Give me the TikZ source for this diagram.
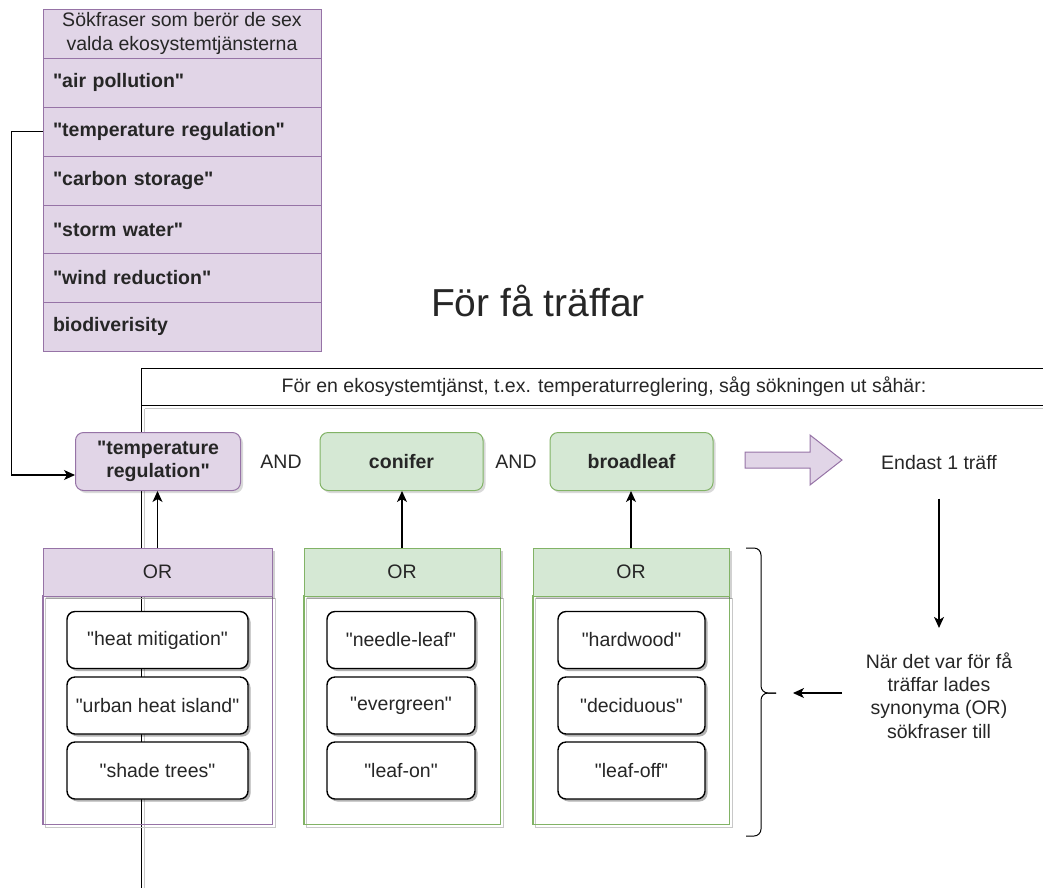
\documentclass[tikz,border=0pt]{standalone}
\usepackage{fontspec}
\setmainfont{Liberation Sans}
\newfontfamily\lsans{Liberation Sans}
\usetikzlibrary{arrows.meta,shadows}

\definecolor{pfill}{HTML}{E1D5E7}
\definecolor{pdraw}{HTML}{9673A6}
\definecolor{gfill}{HTML}{D5E8D4}
\definecolor{gdraw}{HTML}{82B366}
\definecolor{txt}{HTML}{262626}
\definecolor{shd}{HTML}{C8C8C8}

\begin{document}
\begin{tikzpicture}[x=1pt,y=-1pt,
  every node/.style={font=\lsans\fontsize{19.5}{23.4}\selectfont, text=txt},
  listrow/.style={draw=pdraw, fill=pfill, line width=1pt, minimum width=278pt,
    minimum height=49pt, text width=258pt, inner xsep=10pt, inner ysep=0pt,
    align=left, font=\lsans\bfseries\fontsize{19.5}{23.4}\selectfont},
  listhead/.style={draw=pdraw, fill=pfill, line width=1pt, minimum width=278pt,
    minimum height=49pt, inner sep=0pt, align=center},
  keybox/.style={rounded corners=8pt, line width=1pt, minimum height=58pt,
    inner sep=0pt, align=center, font=\lsans\bfseries\fontsize{19.5}{23.4}\selectfont,
    drop shadow={shadow xshift=2.5pt, shadow yshift=-2.5pt, fill=black, opacity=0.15}},
  pbox/.style={keybox, draw=pdraw, fill=pfill},
  gbox/.style={keybox, draw=gdraw, fill=gfill},
  orhead/.style={line width=1pt, minimum height=48pt, inner sep=0pt,
    drop shadow={shadow xshift=3pt, shadow yshift=-3pt, fill=black, opacity=0.18}},
  orbody/.style={line width=1pt, minimum height=228pt, inner sep=0pt},
  shadowline/.style={draw=shd, line width=1.2pt},
  term/.style={draw=black, fill=white, rounded corners=8pt, line width=1.4pt,
    minimum height=57pt, inner sep=0pt,
    drop shadow={shadow xshift=2.5pt, shadow yshift=-2.5pt, fill=black, opacity=0.3}},
  arr/.style={line width=1.1pt, draw=black, -{Stealth[length=11pt,width=10pt,inset=3pt]}},
  plain/.style={align=center}
]
\useasboundingbox (0,0) rectangle (1043,887);
\clip (0,0) rectangle (1043,887);

% ---- list of search phrases ----
\node[listhead] (r0) at (182,33.5) {Sökfraser som berör de sex\\valda ekosystemtjänsterna};
\node[listrow] (r1) at (182,82.5) {"air pollution"};
\node[listrow] (r2) at (182,131.5) {"temperature regulation"};
\node[listrow] (r3) at (182,180.5) {"carbon storage"};
\node[listrow] (r4) at (182,229.5) {"storm water"};
\node[listrow] (r5) at (182,278) {"wind reduction"};
\node[listrow] (r6) at (182,326.5) {biodiverisity};

% ---- big title ----
\node (title) at (538,301) {\fontsize{39}{46}\selectfont För få träffar};

% ---- frame ----
\draw[shadowline] (144.5,408.5) -- (1060,408.5);
\draw[shadowline] (144.5,408.5) -- (144.5,900);
\draw[line width=1pt] (1060,368) -- (141,368) -- (141,900);
\draw[line width=1pt] (141,405) -- (1060,405);
\node (frametitle) at (604,387) {För en ekosystemtjänst, t.ex. temperaturreglering, såg sökningen ut såhär:};

% ---- top row ----
\node[pbox, minimum width=165pt] (tr) at (158,461.5) {"temperature\\regulation"};
\node[plain] (and1) at (281,462) {AND};
\node[gbox, minimum width=163pt] (con) at (401.5,461.5) {conifer};
\node[plain] (and2) at (516,462) {AND};
\node[gbox, minimum width=163pt] (bro) at (631.5,461.5) {broadleaf};
\draw[draw=pdraw, fill=pfill, line width=1pt, line join=miter]
  (745,452) -- (810,452) -- (810,435) -- (842,460) -- (810,485) -- (810,468) -- (745,468) -- cycle;
\node[plain] (endast) at (939,463) {Endast 1 träff};

% ---- OR containers ----
% purple
\node[orbody, draw=pdraw, minimum width=229pt] (or1b) at (157.5,710) {};
\draw[shadowline] ([shift={(3,3)}]or1b.north west) rectangle ([shift={(3,3)}]or1b.south east);
\draw[draw=pdraw, line width=1pt] (or1b.north west) rectangle (or1b.south east);
\node[orhead, draw=pdraw, fill=pfill, minimum width=229pt] (or1) at (157.5,572) {OR};
% green 1
\node[orbody, draw=gdraw, minimum width=196pt] (or2b) at (402,710) {};
\draw[shadowline] ([shift={(3,3)}]or2b.north west) rectangle ([shift={(3,3)}]or2b.south east);
\draw[draw=gdraw, line width=1pt] (or2b.north west) rectangle (or2b.south east);
\node[orhead, draw=gdraw, fill=gfill, minimum width=196pt] (or2) at (402,572) {OR};
% green 2
\node[orbody, draw=gdraw, minimum width=196pt] (or3b) at (631,710) {};
\draw[shadowline] ([shift={(3,3)}]or3b.north west) rectangle ([shift={(3,3)}]or3b.south east);
\draw[draw=gdraw, line width=1pt] (or3b.north west) rectangle (or3b.south east);
\node[orhead, draw=gdraw, fill=gfill, minimum width=196pt] (or3) at (631,572) {OR};

% ---- terms ----
\node[term, minimum width=181pt] (t11) at (157.5,640) {"heat mitigation"};
\node[term, minimum width=181pt] (t12) at (157.5,705.5) {"urban heat island"};
\node[term, minimum width=181pt] (t13) at (157.5,770.5) {"shade trees"};
\node[term, minimum width=148pt] (t21) at (401,640) {"needle-leaf"};
\node[term, minimum width=148pt] (t22) at (401,705.5) {"evergreen"};
\node[term, minimum width=148pt] (t23) at (401,770.5) {"leaf-on"};
\node[term, minimum width=147pt] (t31) at (631.5,640) {"hardwood"};
\node[term, minimum width=147pt] (t32) at (631.5,705.5) {"deciduous"};
\node[term, minimum width=147pt] (t33) at (631.5,770.5) {"leaf-off"};

% ---- brace and right texts ----
\draw[line width=1pt, rounded corners=7pt] (746,548) -- (761,548) -- (761,693) -- (776,693);
\draw[line width=1pt, rounded corners=7pt] (776,693) -- (761,693) -- (761,836) -- (746,836);
\coordinate (bracetip) at (776,693);
\coordinate (larrowstart) at (842,693);
\node[plain] (nar) at (939,695.5) {När det var för få\\träffar lades\\synonyma (OR)\\sökfraser till};

% ---- connectors ----
\draw[arr] (r2.west) -- ++(-31,0) |- ([yshift=-13.5pt]tr.west);
\draw[arr] (or1.north) -- (or1.north |- tr.south);
\draw[arr] (or2.north) -- (or2.north |- con.south);
\draw[arr] (or3.north) -- (or3.north |- bro.south);
\draw[arr, shorten <=25pt, shorten >=21pt] (endast.south) -- (nar.north);
\draw[arr, shorten >=17pt] (larrowstart) -- (bracetip);
\end{tikzpicture}
\end{document}
